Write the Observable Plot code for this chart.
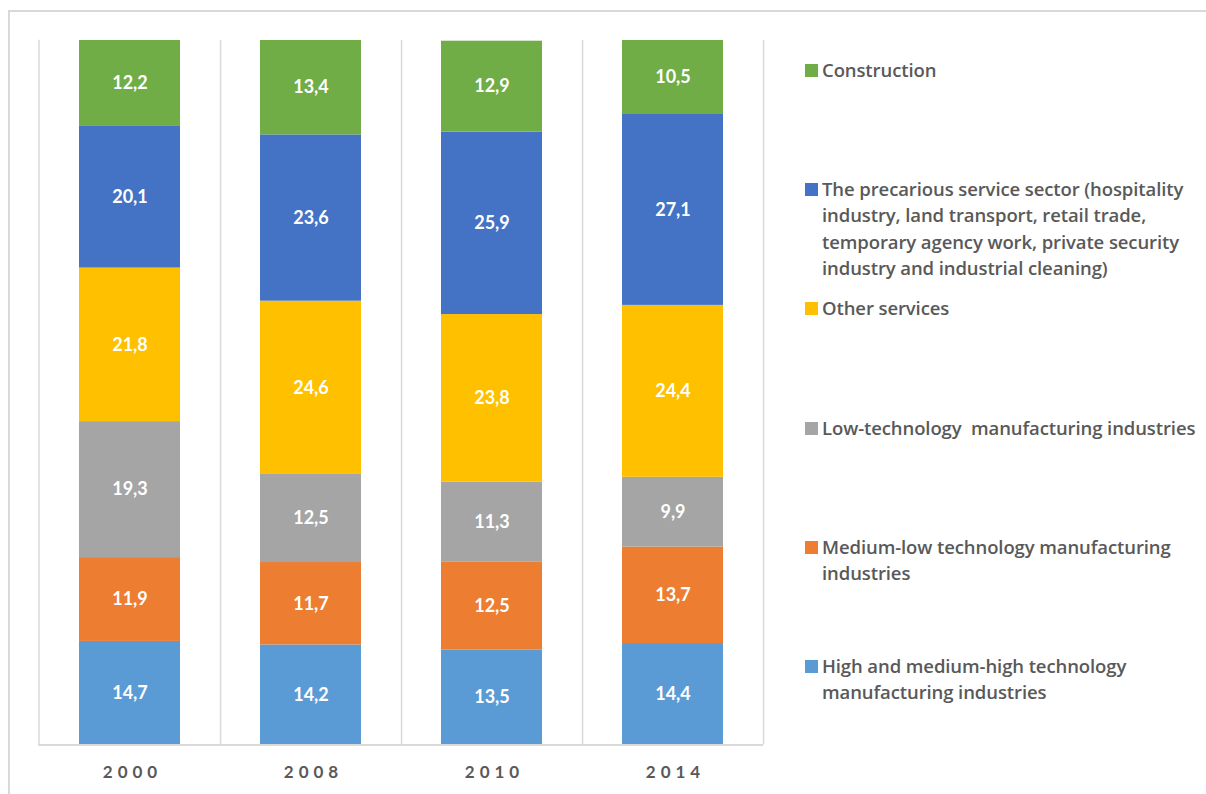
<!DOCTYPE html>
<html>
<head>
<meta charset="utf-8">
<script src="https://cdn.jsdelivr.net/npm/d3@7"></script>
<script src="https://cdn.jsdelivr.net/npm/@observablehq/plot@0.6"></script>
<style>
  html, body { margin: 0; padding: 0; background: #fff; }
  body { width: 1206px; height: 794px; position: relative; overflow: hidden; font-family: Lato, "Open Sans", sans-serif; }
  #frame { position: absolute; left: 8px; top: 10px; width: 1210px; height: 800px; border-left: 2px solid #d9d9d9; border-top: 2px solid #d9d9d9; box-sizing: border-box; }
  #chart { position: absolute; left: 0; top: 0; }
  #chart svg g[aria-label="x-axis tick label"] text { letter-spacing: 5px; }
  #legend { position: absolute; left: 805px; top: 57px; }
  .item { height: 119.2px; display: flex; align-items: flex-start; }
  .sw { width: 13px; height: 13px; margin-top: 7px; margin-right: 4px; flex: none; }
  .lbl { white-space: pre; font-size: 18.5px; line-height: 26.3px; color: #595959; font-family: "Open Sans", sans-serif; font-weight: 600; letter-spacing: -0.1px; }
</style>
</head>
<body>
<div id="frame"></div>
<div id="chart"></div>
<div id="legend"></div>
<script>
const years = ["2000", "2008", "2010", "2014"];
// stack order: bottom to top
const categories = [
  "High and medium-high technology\nmanufacturing industries",
  "Medium-low technology manufacturing\nindustries",
  "Low-technology  manufacturing industries",
  "Other services",
  "The precarious service sector (hospitality\nindustry, land transport, retail trade,\ntemporary agency work, private security\nindustry and industrial cleaning)",
  "Construction"
];
const colors = ["#5B9BD5", "#ED7D31", "#A5A5A5", "#FFC000", "#4472C4", "#70AD47"];
const highTech     = [14.7, 14.2, 13.5, 14.4];
const mediumLow    = [11.9, 11.7, 12.5, 13.7];
const lowTech      = [19.3, 12.5, 11.3, 9.9];
const otherServ    = [21.8, 24.6, 23.8, 24.4];
const precarious   = [20.1, 23.6, 25.9, 27.1];
const construction = [12.2, 13.4, 12.9, 10.5];
const series = [highTech, mediumLow, lowTech, otherServ, precarious, construction];

const data = [];
categories.forEach((c, i) => {
  years.forEach((y, j) => data.push({year: y, category: c, value: series[i][j]}));
});

const W = 780, H = 794, mL = 38.5, mR = 17, mT = 40, mB = 49.5;
const bw = (W - mL - mR) / years.length;
const fmt = v => d3.format(".1f")(v).replace(".", ",");

const plot = Plot.plot({
  width: W, height: H,
  marginLeft: mL, marginRight: mR, marginTop: mT, marginBottom: mB,
  style: {fontFamily: "Lato, sans-serif", background: "transparent"},
  x: {type: "band", domain: years, padding: 0},
  y: {domain: [0, 100], axis: null},
  color: {domain: categories, range: colors},
  marks: [
    Plot.frame({anchor: "left", stroke: "#d9d9d9", strokeWidth: 1.5}),
    Plot.ruleX(years, {x: d => d, dx: bw / 2, stroke: "#d9d9d9", strokeWidth: 1.5}),
    Plot.barY(data, {x: "year", y: "value", fill: "category", insetLeft: 40, insetRight: 40, order: categories}),
    Plot.ruleY([0], {stroke: "#d9d9d9", strokeWidth: 2}),
    Plot.text(data, Plot.stackY({x: "year", y: "value", z: "category", order: categories, text: d => fmt(d.value), fill: "white", fontSize: 18, fontWeight: "bold"})),
    Plot.axisX({tickSize: 0, tickPadding: 21, fontSize: 17, fontWeight: "bold", fill: "#595959", dx: 2.5, label: null})
  ]
});
document.getElementById("chart").appendChild(plot);

const legend = document.getElementById("legend");
categories.slice().reverse().forEach((c, k) => {
  const i = categories.length - 1 - k;
  const item = document.createElement("div");
  item.className = "item";
  const sw = document.createElement("div");
  sw.className = "sw";
  sw.style.background = colors[i];
  const lbl = document.createElement("div");
  lbl.className = "lbl";
  lbl.textContent = c;
  item.appendChild(sw);
  item.appendChild(lbl);
  legend.appendChild(item);
});
</script>
</body>
</html>
